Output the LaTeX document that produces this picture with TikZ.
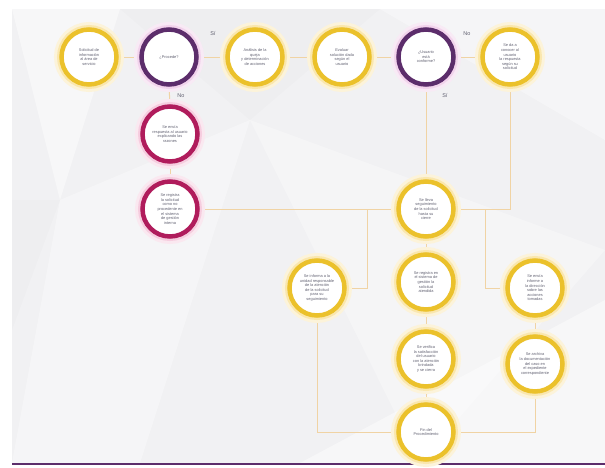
\documentclass[tikz,border=0pt]{standalone}
\usepackage{fontspec}
\setmainfont{Liberation Sans}
\pgfdeclarelayer{bgfill}
\pgfdeclarelayer{conns}
\pgfsetlayers{bgfill,conns,main}
\definecolor{ylw}{HTML}{EBC12B}
\definecolor{ylwglow}{HTML}{FAE7AE}
\definecolor{ylwhalo}{HTML}{FCF3DA}
\definecolor{prp}{HTML}{5C2D6B}
\definecolor{prpglow}{HTML}{F2D3EC}
\definecolor{prphalo}{HTML}{F8EAF5}
\definecolor{mgt}{HTML}{B01C5C}
\definecolor{mgtglow}{HTML}{F6CDDF}
\definecolor{mgthalo}{HTML}{FAE8F0}
\definecolor{conn}{HTML}{F0D3A4}
\definecolor{bg}{HTML}{F1F1F3}
\definecolor{txt}{HTML}{626272}
\tikzset{
  stepnode/.style={circle, minimum size=55pt, inner sep=0pt, fill=white,
    line width=4.5pt, align=center, text=txt,
    font=\fontsize{3.9}{4.6}\selectfont},
  ynode/.style={stepnode, draw=ylw,
    preaction={draw=ylwhalo, line width=15pt},
    preaction={draw=ylwglow, line width=9pt}},
  pnode/.style={stepnode, draw=prp,
    preaction={draw=prphalo, line width=15pt},
    preaction={draw=prpglow, line width=9pt}},
  mnode/.style={stepnode, draw=mgt,
    preaction={draw=mgthalo, line width=15pt},
    preaction={draw=mgtglow, line width=9pt}},
  cn/.style={draw=conn, line width=1pt},
  lbl/.style={font=\fontsize{5.5}{6}\selectfont, text=txt}
}
\begin{document}
\begin{tikzpicture}[x=1pt,y=-1pt]
\useasboundingbox (0,0) rectangle (605,467);
\begin{pgfonlayer}{bgfill}
\fill[white] (0,0) rectangle (605,467);
\fill[bg] (12,9) rectangle (605,463);
\fill[white,opacity=0.45] (12,9) -- (120,9) -- (60,200) -- cycle;
\fill[white,opacity=0.35] (60,200) -- (250,120) -- (140,463) -- (12,463) -- cycle;
\fill[white,opacity=0.3] (250,120) -- (605,250) -- (420,463) -- cycle;
\fill[white,opacity=0.45] (300,463) -- (605,300) -- (605,463) -- cycle;
\fill[white,opacity=0.35] (380,9) -- (605,9) -- (605,140) -- cycle;
\fill[gray,opacity=0.025] (120,9) -- (380,9) -- (250,120) -- cycle;
\fill[gray,opacity=0.025] (12,200) -- (60,200) -- (12,330) -- cycle;
\draw[prp, line width=2pt] (12,464) -- (605,464);
\end{pgfonlayer}

% nodes
\node[ynode] (A) at (89,57) {Solicitud de\\información\\al área de\\servicio};
\node[pnode] (B) at (169,57) {¿Procede?};
\node[ynode] (C) at (255,57) {Análisis de la\\queja\\y determinación\\de acciones};
\node[ynode] (D) at (342,57) {Evaluar\\solución dada\\según el\\usuario};
\node[pnode] (E) at (426,57) {¿Usuario\\está\\conforme?};
\node[ynode] (F) at (510,57) {Se da a\\conocer al\\usuario\\la respuesta\\según su\\solicitud};
\node[mnode] (G) at (170,134) {Se envía\\respuesta al usuario\\explicando las\\razones};
\node[mnode] (H) at (170,209) {Se registra\\la solicitud\\como no\\procedente en\\el sistema\\de gestión\\interna};
\node[ynode] (I) at (426,209) {Se lleva\\seguimiento\\de la solicitud\\hasta su\\cierre};
\node[ynode] (J) at (317,288) {Se informa a la\\unidad responsable\\de la atención\\de la solicitud\\para su\\seguimiento};
\node[ynode] (K) at (426,282) {Se registra en\\el sistema de\\gestión la\\solicitud\\atendida};
\node[ynode] (L) at (535,288) {Se envía\\informe a\\la dirección\\sobre las\\acciones\\tomadas};
\node[ynode] (M) at (426,359) {Se verifica\\la satisfacción\\del usuario\\con la atención\\brindada\\y se cierra};
\node[ynode] (N) at (535,364) {Se archiva\\la documentación\\del caso en\\el expediente\\correspondiente};
\node[ynode] (O) at (426,432) {Fin del\\Procedimiento};

\coordinate (jb) at (367,209);
\coordinate (lb) at (485,209);

\begin{pgfonlayer}{conns}
\draw[cn] (A) -- (B);
\draw[cn] (B) -- (C);
\draw[cn] (C) -- (D);
\draw[cn] (D) -- (E);
\draw[cn] (E) -- (F);
\draw[cn] (B) -- (G);
\draw[cn] (G) -- (H);
\draw[cn] (H) -- (I);
\draw[cn] (E) -- (I);
\draw[cn] (F) -- (F |- I) -- (I);
\draw[cn] (jb) -- (jb |- J) -- (J);
\draw[cn] (lb) -- (lb |- L) -- (L);
\draw[cn] (I) -- (K);
\draw[cn] (K) -- (M);
\draw[cn] (M) -- (O);
\draw[cn] (L) -- (N);
\draw[cn] (J) -- (J |- O) -- (O);
\draw[cn] (N) -- (N |- O) -- (O);
\end{pgfonlayer}

\node[lbl] (si1) at (213,33) {Sí};
\node[lbl] (no1) at (181,96) {No};
\node[lbl] (no2) at (467,34) {No};
\node[lbl] (si2) at (445,95) {Sí};
\end{tikzpicture}
\end{document}
